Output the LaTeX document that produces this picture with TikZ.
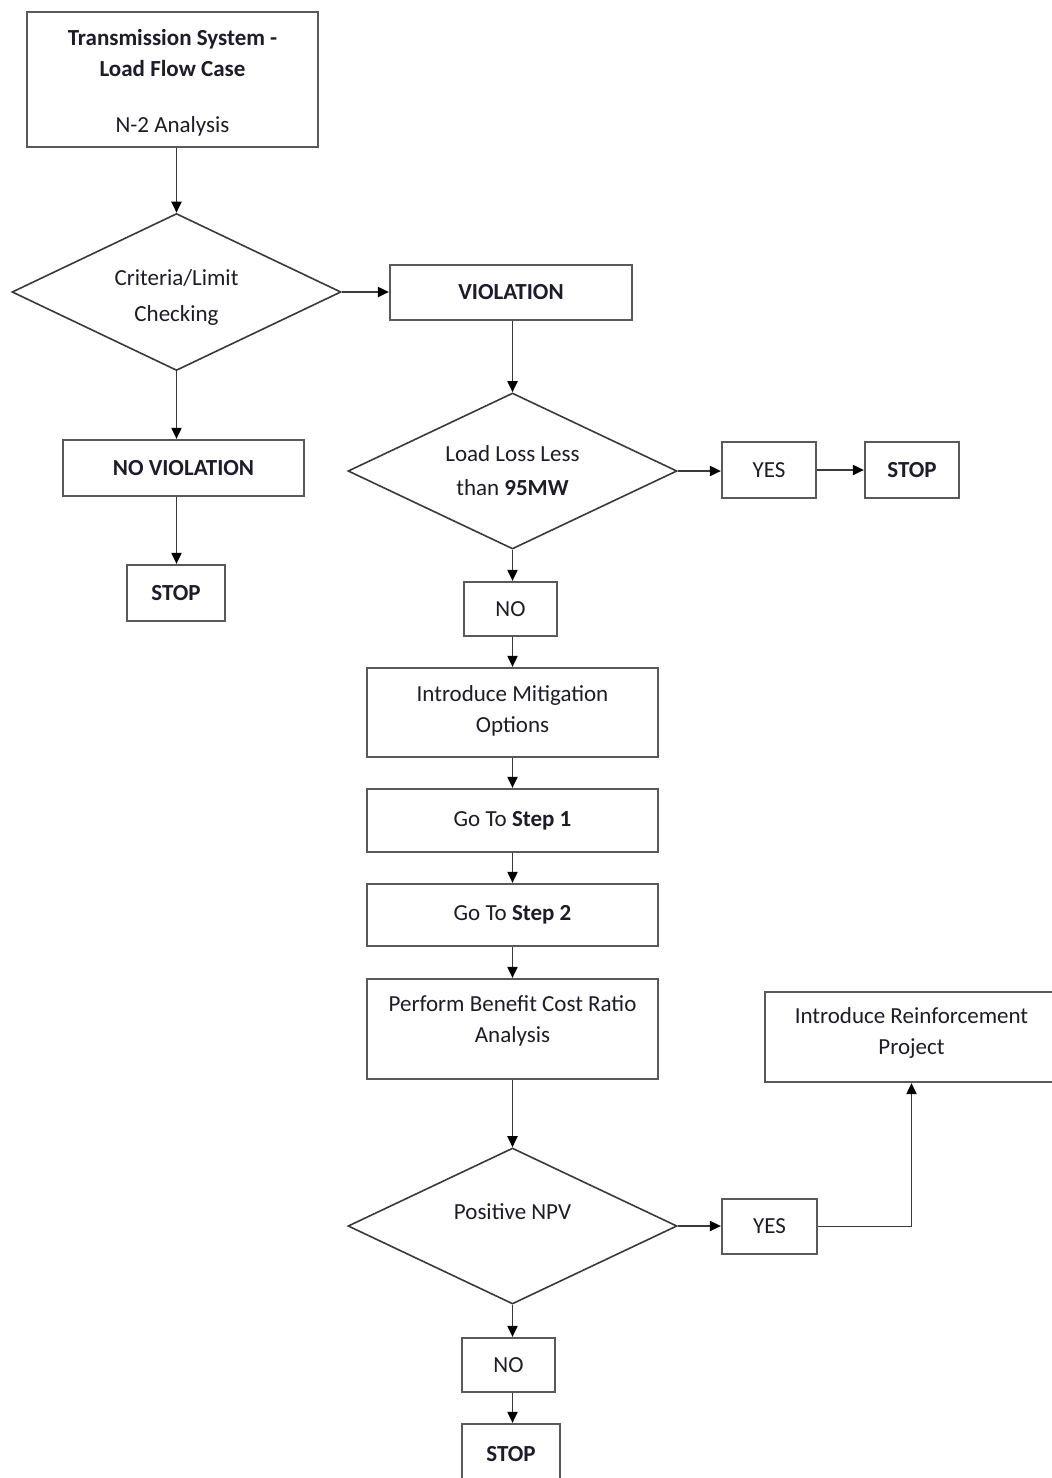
\documentclass[tikz,border=0pt]{standalone}
\usepackage{fontspec}
\setmainfont{Carlito}
\usetikzlibrary{shapes.geometric,arrows.meta}
\definecolor{boxline}{HTML}{595959}
\definecolor{flowline}{HTML}{3A3A3A}
\definecolor{inktext}{HTML}{1C1C2A}
\begin{document}
\begin{tikzpicture}[x=1pt,y=-1pt,
  every node/.style={font=\fontsize{23}{31}\selectfont, text=inktext},
  procbox/.style={draw=boxline, line width=2.2pt, rectangle, inner sep=0pt, align=center},
  decision/.style={draw=flowline, line width=1.6pt, diamond, aspect=2.1, inner sep=0pt,
    minimum width=329pt, minimum height=157pt, align=center},
  flow/.style={draw=flowline, line width=1.9pt, -{Triangle[length=11pt,width=10pt,color=black]}}
]
\useasboundingbox[fill=white] (0,0) rectangle (1052,1478);

% left column
\node[procbox, minimum width=291pt, minimum height=135pt,
  label={[yshift=-3pt, align=center]center:\textbf{Transmission System -}\\\textbf{Load Flow Case}\\[25pt]N-2 Analysis}]
  (src) at (172.5,79.5) {};
\node[decision, label={[yshift=-5pt, align=center]center:Criteria/Limit\\[5pt]Checking}]
  (d1) at (176.5,292) {};
\node[procbox, minimum width=241pt, minimum height=56pt] (nov) at (183.5,468) {\textbf{NO VIOLATION}};
\node[procbox, minimum width=98pt, minimum height=56pt] (stopl) at (176,593) {\textbf{STOP}};

% main column
\node[procbox, minimum width=242pt, minimum height=55pt] (viol) at (511,292.5) {\textbf{VIOLATION}};
\node[decision, minimum height=156pt] (d2) at (512.5,471) {Load Loss Less\\[3pt]than \textbf{95MW}};
\node[procbox, minimum width=94pt, minimum height=56pt] (yes1) at (769,470) {YES};
\node[procbox, minimum width=94pt, minimum height=56pt] (stop1) at (912,470) {\textbf{STOP}};
\node[procbox, minimum width=93pt, minimum height=54pt] (no1) at (510.5,609) {NO};
\node[procbox, minimum width=291pt, minimum height=89pt,
  label={[yshift=2pt, align=center]center:Introduce Mitigation\\Options}] (mitig) at (512.5,712.5) {};
\node[procbox, minimum width=291pt, minimum height=63pt] (step1) at (512.5,820.5) {Go To \textbf{Step 1}};
\node[procbox, minimum width=291pt, minimum height=62pt] (step2) at (512.5,915) {Go To \textbf{Step 2}};
\node[procbox, minimum width=291pt, minimum height=100pt,
  label={[yshift=8pt, align=center]center:Perform Benefit Cost Ratio\\Analysis}] (bcr) at (512.5,1029) {};
\node[decision, minimum height=156pt,
  label={[yshift=14pt]center:Positive NPV}] (d3) at (512.5,1226) {};
\node[procbox, minimum width=95pt, minimum height=55pt] (yes2) at (769.5,1226.5) {YES};
\node[procbox, minimum width=293pt, minimum height=90pt,
  label={[yshift=4pt, align=center]center:Introduce Reinforcement\\Project}] (reinf) at (911.5,1037) {};
\node[procbox, minimum width=93pt, minimum height=54pt] (no2) at (508.5,1365) {NO};
\node[procbox, minimum width=98pt, minimum height=60pt] (stop2) at (511,1454) {\textbf{STOP}};

% connectors
\draw[flow] (src.south -| d1.north) -- (d1.north);
\draw[flow] (d1.east) -- (d1.east -| viol.west);
\draw[flow] (d1.south) -- (d1.south |- nov.north);
\draw[flow] (d1.south |- nov.south) -- (d1.south |- stopl.north);
\draw[flow] (viol.south -| d2.north) -- (d2.north);
\draw[flow] (d2.east) -- (d2.east -| yes1.west);
\draw[flow] (yes1.east) -- (stop1.west);
\draw[flow] (d2.south) -- (d2.south |- no1.north);
\draw[flow] (d2.south |- no1.south) -- (mitig.north);
\draw[flow] (mitig.south) -- (step1.north);
\draw[flow] (step1.south) -- (step2.north);
\draw[flow] (step2.south) -- (bcr.north);
\draw[flow] (bcr.south) -- (d3.north);
\draw[flow] (d3.east) -- (d3.east -| yes2.west);
\draw[flow] (yes2.east) -| (reinf.south);
\draw[flow] (d3.south) -- (d3.south |- no2.north);
\draw[flow] (d3.south |- no2.south) -- (d3.south |- stop2.north);
\end{tikzpicture}
\end{document}
